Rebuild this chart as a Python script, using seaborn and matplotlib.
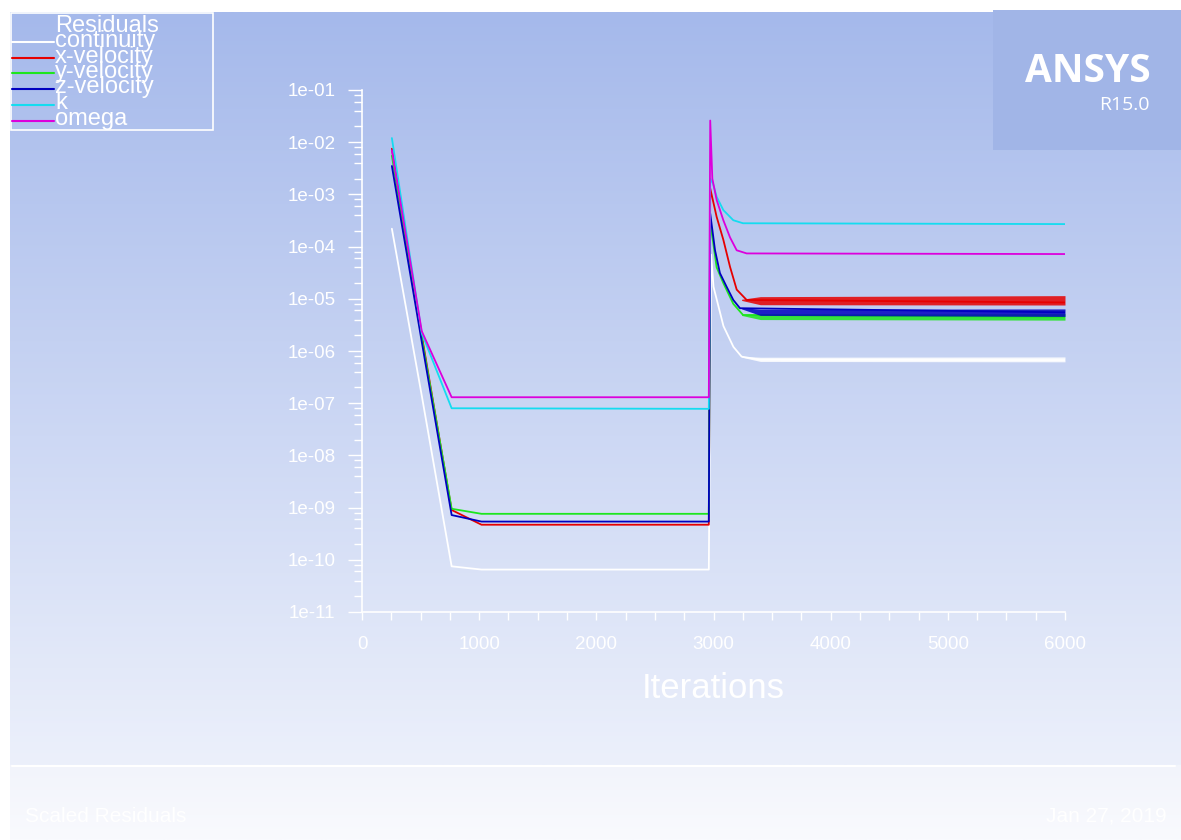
import numpy as np
import pandas as pd
import seaborn as sns
import matplotlib.pyplot as plt
from matplotlib.patches import Rectangle
from matplotlib.lines import Line2D
from matplotlib.ticker import MultipleLocator, LogLocator, FuncFormatter, NullFormatter

# residual histories (iteration, scaled residual)
cont_it = [255, 510, 765, 1020, 2960, 2980, 3000, 3085, 3170, 3240, 3400, 6000]
cont_val = [2.2e-4, 1.4e-7, 7.5e-11, 6.5e-11, 6.5e-11, 7e-5, 1.7e-5, 3e-6, 1.2e-6, 7.8e-7, 6.8e-7, 6.7e-7]

xvel_it = [255, 510, 765, 1020, 2960, 2972, 3027, 3084, 3141, 3198, 3283, 6000]
xvel_val = [7.5e-3, 2e-6, 9e-10, 4.7e-10, 4.7e-10, 1.3e-3, 3.7e-4, 1.35e-4, 4.1e-5, 1.5e-5, 9.5e-6, 8.5e-6]

yvel_it = [255, 510, 765, 1020, 2960, 2972, 3027, 3084, 3169, 3252, 6000]
yvel_val = [5.5e-3, 1.8e-6, 9.5e-10, 7.6e-10, 7.6e-10, 3e-4, 4e-5, 2e-5, 8e-6, 4.9e-6, 4.5e-6]

zvel_it = [255, 510, 765, 1020, 2960, 2972, 3013, 3055, 3112, 3169, 3226, 6000]
zvel_val = [3.5e-3, 1.5e-6, 7.2e-10, 5.4e-10, 5.4e-10, 4.3e-4, 8.5e-5, 3.1e-5, 1.7e-5, 9.5e-6, 6.6e-6, 5.5e-6]

k_it = [255, 510, 765, 2960, 2972, 2996, 3027, 3084, 3169, 3252, 6000]
k_val = [1.2e-2, 2.2e-6, 8e-8, 7.8e-8, 2e-3, 1.6e-3, 9e-4, 5e-4, 3.2e-4, 2.8e-4, 2.7e-4]

omega_it = [255, 510, 765, 2960, 2972, 2990, 3027, 3084, 3141, 3198, 3283, 6000]
omega_val = [7e-3, 2.4e-6, 1.3e-7, 1.3e-7, 2.6e-2, 2e-3, 7.8e-4, 3.2e-4, 1.5e-4, 8.5e-5, 7.4e-5, 7.2e-5]

# spread of the noisy tails after the restart (low / high edge)
tail_it = [3240, 3400, 6000]
cont_lo = [7.6e-7, 6.3e-7, 6.2e-7]
cont_hi = [7.9e-7, 7.6e-7, 7.7e-7]
xvel_lo = [9.3e-6, 7.7e-6, 7.6e-6]
xvel_hi = [9.8e-6, 1.1e-5, 1.15e-5]
yvel_lo = [4.8e-6, 4.0e-6, 3.9e-6]
yvel_hi = [5.0e-6, 5.1e-6, 5.2e-6]
zvel_lo = [6.4e-6, 4.8e-6, 4.6e-6]
zvel_hi = [6.8e-6, 6.3e-6, 6.4e-6]

names = ['continuity', 'x-velocity', 'y-velocity', 'z-velocity', 'k', 'omega']
colors = {
    'continuity': '#ffffff',
    'x-velocity': '#e60000',
    'y-velocity': '#1ee61e',
    'z-velocity': '#0000c0',
    'k': '#14dcf0',
    'omega': '#dc00dc',
}

series = {
    'continuity': (cont_it, cont_val),
    'x-velocity': (xvel_it, xvel_val),
    'y-velocity': (yvel_it, yvel_val),
    'z-velocity': (zvel_it, zvel_val),
    'k': (k_it, k_val),
    'omega': (omega_it, omega_val),
}
bands = {
    'continuity': (cont_lo, cont_hi),
    'x-velocity': (xvel_lo, xvel_hi),
    'y-velocity': (yvel_lo, yvel_hi),
    'z-velocity': (zvel_lo, zvel_hi),
}
rows = []
for name in names:
    its, vals = series[name]
    for i, v in zip(its, vals):
        rows.append((name, i, v))
df = pd.DataFrame(rows, columns=['series', 'iteration', 'residual'])

sns.set_style("ticks")
plt.rcParams['font.family'] = ['Liberation Sans', 'DejaVu Sans']

W, H = 1181, 840
fig = plt.figure(figsize=(W / 100, H / 100), dpi=100)

# background (pixel coordinates, decoration only)
bg = fig.add_axes([0, 0, 1, 1])
bg.set_xlim(0, W)
bg.set_ylim(H, 0)
bg.axis('off')
top = np.array([165, 185, 235]) / 255
bot = np.array([236, 240, 251]) / 255
t = np.linspace(0, 1, 256)[:, None, None]
grad = top + (bot - top) * t
grad = np.repeat(grad, 2, axis=1)
bg.imshow(grad, extent=[10, W, 765, 12], aspect='auto', interpolation='bilinear', zorder=0)
foot = np.linspace(np.array([242, 244, 251]) / 255, np.array([249, 250, 254]) / 255, 64)[:, None, :]
foot = np.repeat(foot, 2, axis=1)
bg.imshow(foot, extent=[10, W, H, 765], aspect='auto', interpolation='bilinear', zorder=0)
bg.plot([12, 1175], [765.5, 765.5], color='white', lw=1.5, zorder=1)
bg.add_patch(Rectangle((993, 10), 188, 140, facecolor='#a1b5e7', edgecolor='none', zorder=1))
bg.text(1088, 82, 'ANSYS', color='white', fontsize=28, fontweight='bold',
        family='Open Sans', ha='center', va='baseline', zorder=2)
bg.text(1150, 110, 'R15.0', color='white', fontsize=14, family='Open Sans',
        ha='right', va='baseline', zorder=2)
bg.text(25, 822, 'Scaled Residuals', color='white', fontsize=15, ha='left', va='baseline')
bg.text(1167, 822, 'Jan 27, 2019', color='white', fontsize=15, ha='right', va='baseline')

# legend box
bg.add_patch(Rectangle((11, 13), 202, 117, facecolor='none', edgecolor='white', lw=1.2, zorder=3))
bg.text(55, 31.5, 'Residuals', color='white', fontsize=17, ha='left', va='baseline', zorder=4)
for j, name in enumerate(names):
    yl = 41.7 + 15.8 * j
    bg.add_line(Line2D([12, 54], [yl, yl], color=colors[name], lw=1.5, zorder=3))
    bg.text(55, 47 + 15.5 * j, name, color='white', fontsize=17, ha='left', va='baseline', zorder=4)

# main plot
ax = fig.add_axes([362 / W, 1 - 612 / H, 703 / W, 522 / H])
ax.patch.set_alpha(0)
for name in names:
    if name in bands:
        lo, hi = bands[name]
        ax.fill_between(tail_it, lo, hi, color=colors[name], lw=0, alpha=0.85,
                        zorder=2 + names.index(name) * 0.1)
sns.lineplot(data=df, x='iteration', y='residual', hue='series', hue_order=names,
             palette=colors, estimator=None, sort=False, legend=False, lw=1.3, ax=ax)
ax.set_yscale('log')
ax.set_xlim(0, 6000)
ax.set_ylim(1e-11, 1e-1)

for side in ['top', 'right']:
    ax.spines[side].set_visible(False)
for side in ['left', 'bottom']:
    ax.spines[side].set_color('white')
    ax.spines[side].set_linewidth(1.2)

ax.xaxis.set_major_locator(MultipleLocator(1000))
ax.xaxis.set_minor_locator(MultipleLocator(250))
ax.yaxis.set_major_locator(LogLocator(base=10, numticks=20))
ax.yaxis.set_minor_locator(LogLocator(base=10, subs=(2, 4, 6, 8), numticks=20))
ax.yaxis.set_minor_formatter(NullFormatter())
ax.yaxis.set_major_formatter(FuncFormatter(lambda v, p: f"1e{int(round(np.log10(v))):03d}"))

ax.tick_params(axis='y', which='major', length=10, width=1, color='white', labelcolor='white',
               labelsize=13.5, pad=9)
ax.tick_params(axis='y', which='minor', length=6, width=1, color='white')
ax.tick_params(axis='x', which='both', length=6, width=1, color='white', labelcolor='white',
               labelsize=13.5, pad=11)

ax.set_xlabel('Iterations', color='white', fontsize=25, labelpad=14)
ax.set_ylabel('')

fig.savefig('out.png', dpi=100, facecolor='white')
